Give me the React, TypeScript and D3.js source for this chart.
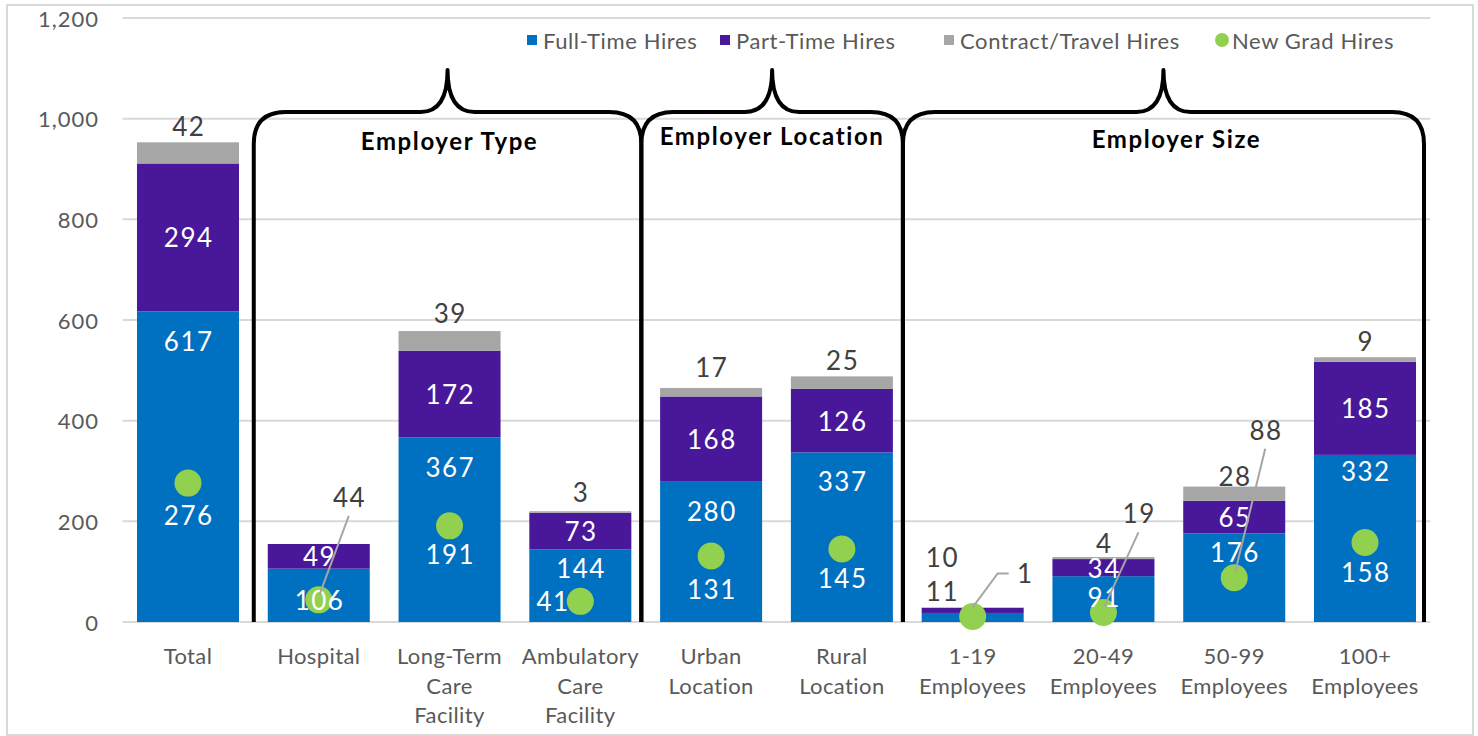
import React from "react";
import * as d3 from "d3";

// ---------- data ----------
const categories: string[][] = [
  ["Total"],
  ["Hospital"],
  ["Long-Term", "Care", "Facility"],
  ["Ambulatory", "Care", "Facility"],
  ["Urban", "Location"],
  ["Rural", "Location"],
  ["1-19", "Employees"],
  ["20-49", "Employees"],
  ["50-99", "Employees"],
  ["100+", "Employees"],
];
const fullTime = [617, 106, 367, 144, 280, 337, 18, 91, 176, 332];
const partTime = [294, 49, 172, 73, 168, 126, 10, 34, 65, 185];
const contract = [42, 0, 39, 3, 17, 25, 1, 4, 28, 9];
const newGrad = [276, 44, 191, 41, 131, 145, 11, 19, 88, 158];
const yTicks = [0, 200, 400, 600, 800, 1000, 1200];
const seriesNames = ["Full-Time Hires", "Part-Time Hires", "Contract/Travel Hires", "New Grad Hires"];
const groups = [
  { name: "Employer Type", from: 1, to: 3 },
  { name: "Employer Location", from: 4, to: 5 },
  { name: "Employer Size", from: 6, to: 9 },
];

// ---------- layout (label placement, px) ----------
const ftLabelDy: (number | null)[] = [30, 31, 30, 18, 30, 29, null, 21, 19, 16];
const ctLabel = [
  { dx: 0, dy: -16 }, null, { dx: 0, dy: -18 }, { dx: 0, dy: -19 }, { dx: 0, dy: -21 },
  { dx: 0, dy: -16 }, { dx: 52, dy: -34, elbow: true }, { dx: 0, dy: -14 }, { dx: 0, dy: -11 }, { dx: 0, dy: -16 },
];
const ptLabel = [null, null, null, null, null, null, { dx: -31, dy: -53, dark: true }, null, null, null];
const ngLabel = [
  { dx: 0, dy: 32 },
  { dx: 30, dy: -103, dark: true, leader: true },
  { dx: 0, dy: 28 },
  { dx: -28, dy: 0 },
  { dx: 0, dy: 33 },
  { dx: 0, dy: 29 },
  { dx: -31, dy: -25, dark: true },
  { dx: 35, dy: -99, dark: true, leader: true },
  { dx: 31, dy: -148, dark: true, leader: true },
  { dx: 0, dy: 30 },
];
const legendX = [527, 720, 944, 1220];

const COLORS = { ft: "#0070C0", pt: "#48179A", ct: "#A6A6A6", ng: "#92D050" };
const FONT = "Lato, 'Open Sans', sans-serif";
const DARK = "#404040";
const AXIS = "#595959";

export default function App() {
  const W = 1478, H = 736;
  const x = d3.scaleBand<number>()
    .domain(d3.range(categories.length))
    .range([122.6, 1430.4])
    .paddingInner(0.22)
    .paddingOuter(0.11);
  const y = d3.scaleLinear().domain([0, 1200]).range([622, 18]);
  const bw = x.bandwidth();
  const rows = categories.map((_, i) => ({ ft: fullTime[i], pt: partTime[i], ct: contract[i] }));
  const stacked = d3.stack<any>().keys(["ft", "pt", "ct"])(rows);
  const cx = (i: number) => (x(i) as number) + bw / 2;

  // bracket edges
  const edges = groups.map((g) => ({
    l: g.from === 1 ? (x(g.from) as number) - 14 : 0,
    r: (x(g.to) as number) + bw + (g.to === 9 ? 8 : 10),
  }));
  edges[1].l = edges[0].r;
  edges[2].l = edges[1].r;
  const yTop = 112, apex = 70, rr = 32;
  const bracketPath = (l: number, r: number) => {
    const m = (l + r) / 2;
    const p = d3.path();
    p.moveTo(l, y(0));
    p.lineTo(l, yTop + rr);
    p.quadraticCurveTo(l, yTop, l + rr, yTop);
    p.lineTo(m - 27, yTop);
    p.bezierCurveTo(m - 8, yTop, m, yTop - 16, m, apex);
    p.bezierCurveTo(m, yTop - 16, m + 8, yTop, m + 27, yTop);
    p.lineTo(r - rr, yTop);
    p.quadraticCurveTo(r, yTop, r, yTop + rr);
    p.lineTo(r, y(0));
    return p.toString();
  };
  const titleDx = [2, 0, 13];
  const titleY = [140, 135, 138];

  const LS = 1.5;
  const labels: React.ReactNode[] = [];
  const T = (key: string, xx: number, yy: number, fill: string, txt: number) => (
    <text key={key} x={xx + LS / 2} y={yy} fill={fill} fontSize={26} letterSpacing={LS} textAnchor="middle" dominantBaseline="central">{txt}</text>
  );
  categories.forEach((_, i) => {
    const c = cx(i);
    const fdy = ftLabelDy[i];
    if (fdy !== null) labels.push(T("ft" + i, c, y(fullTime[i]) + fdy, "#fff", fullTime[i]));
    const pl = ptLabel[i];
    const pc = y(fullTime[i] + partTime[i] / 2);
    labels.push(T("pt" + i, c + (pl ? pl.dx : 0), pc + (pl ? pl.dy : 0), pl && pl.dark ? DARK : "#fff", partTime[i]));
    const cl: any = ctLabel[i];
    if (cl) {
      const top = y(fullTime[i] + partTime[i] + contract[i]);
      if (cl.elbow) {
        labels.push(
          <polyline key={"cll" + i} points={`${c},${top} ${c + cl.dx - 27},${top + cl.dy} ${c + cl.dx - 16},${top + cl.dy}`} fill="none" stroke="#A6A6A6" strokeWidth={2} />
        );
      }
      labels.push(T("ct" + i, c + cl.dx, top + cl.dy, DARK, contract[i]));
    }
    const nl: any = ngLabel[i];
    const ny = y(newGrad[i]);
    if (nl.leader) {
      labels.push(
        <line key={"ngl" + i} x1={c + nl.dx} y1={ny + nl.dy + 19} x2={c + 1} y2={ny - 6} stroke="#A6A6A6" strokeWidth={2} />
      );
    }
    labels.push(T("ng" + i, c + nl.dx, ny + nl.dy, nl.dark ? DARK : "#fff", newGrad[i]));
  });

  return (
    <svg width={W} height={H} style={{ position: "absolute", left: 0, top: 0, fontFamily: FONT }}>
      <rect x={0} y={0} width={W} height={H} fill="#fff" />
      <rect x={7} y={5} width={1466} height={730} fill="none" stroke="#D9D9D9" strokeWidth={2} />
      {yTicks.map((t) => (
        <line key={"g" + t} x1={122.6} x2={1430.4} y1={y(t)} y2={y(t)} stroke="#D9D9D9" strokeWidth={2} />
      ))}
      {yTicks.map((t) => (
        <text key={"yt" + t} x={99} y={y(t)} fill={AXIS} fontSize={22} letterSpacing={1} textAnchor="end" dominantBaseline="central">{d3.format(",")(t)}</text>
      ))}
      {stacked.map((s, si) => (
        <g key={"s" + si} fill={[COLORS.ft, COLORS.pt, COLORS.ct][si]}>
          {s.map((d, i) => (d[1] - d[0] > 0 ? (
            <rect key={i} x={x(i)} width={bw} y={y(d[1])} height={y(d[0]) - y(d[1])} />
          ) : null))}
        </g>
      ))}
      {categories.map((lines, i) => (
        <text key={"c" + i} x={cx(i)} fill={AXIS} fontSize={22} letterSpacing={0.4} textAnchor="middle" dominantBaseline="central">
          {lines.map((ln, k) => (
            <tspan key={k} x={cx(i)} y={655 + k * 29.5}>{ln}</tspan>
          ))}
        </text>
      ))}
      {groups.map((g, gi) => (
        <g key={"b" + gi}>
          <path d={bracketPath(edges[gi].l, edges[gi].r)} fill="none" stroke="#000" strokeWidth={4} strokeLinejoin="round" />
          <text x={(edges[gi].l + edges[gi].r) / 2 + titleDx[gi]} y={titleY[gi]} fontSize={24} fontWeight={700} letterSpacing={1.6} fill="#000" textAnchor="middle" dominantBaseline="central">{g.name}</text>
        </g>
      ))}
      {newGrad.map((v, i) => (
        <circle key={"d" + i} cx={cx(i)} cy={y(v)} r={13.5} fill={COLORS.ng} />
      ))}
      {labels}
      {seriesNames.map((n, i) => (
        <g key={"l" + i}>
          {i < 3 ? (
            <rect x={legendX[i]} y={35} width={10} height={10} fill={[COLORS.ft, COLORS.pt, COLORS.ct][i]} />
          ) : (
            <circle cx={legendX[i] + 2} cy={40} r={7} fill={COLORS.ng} />
          )}
          <text x={legendX[i] + (i < 3 ? 16 : 12)} y={40} fill={AXIS} fontSize={22} letterSpacing={0.6} dominantBaseline="central">{n}</text>
        </g>
      ))}
    </svg>
  );
}
